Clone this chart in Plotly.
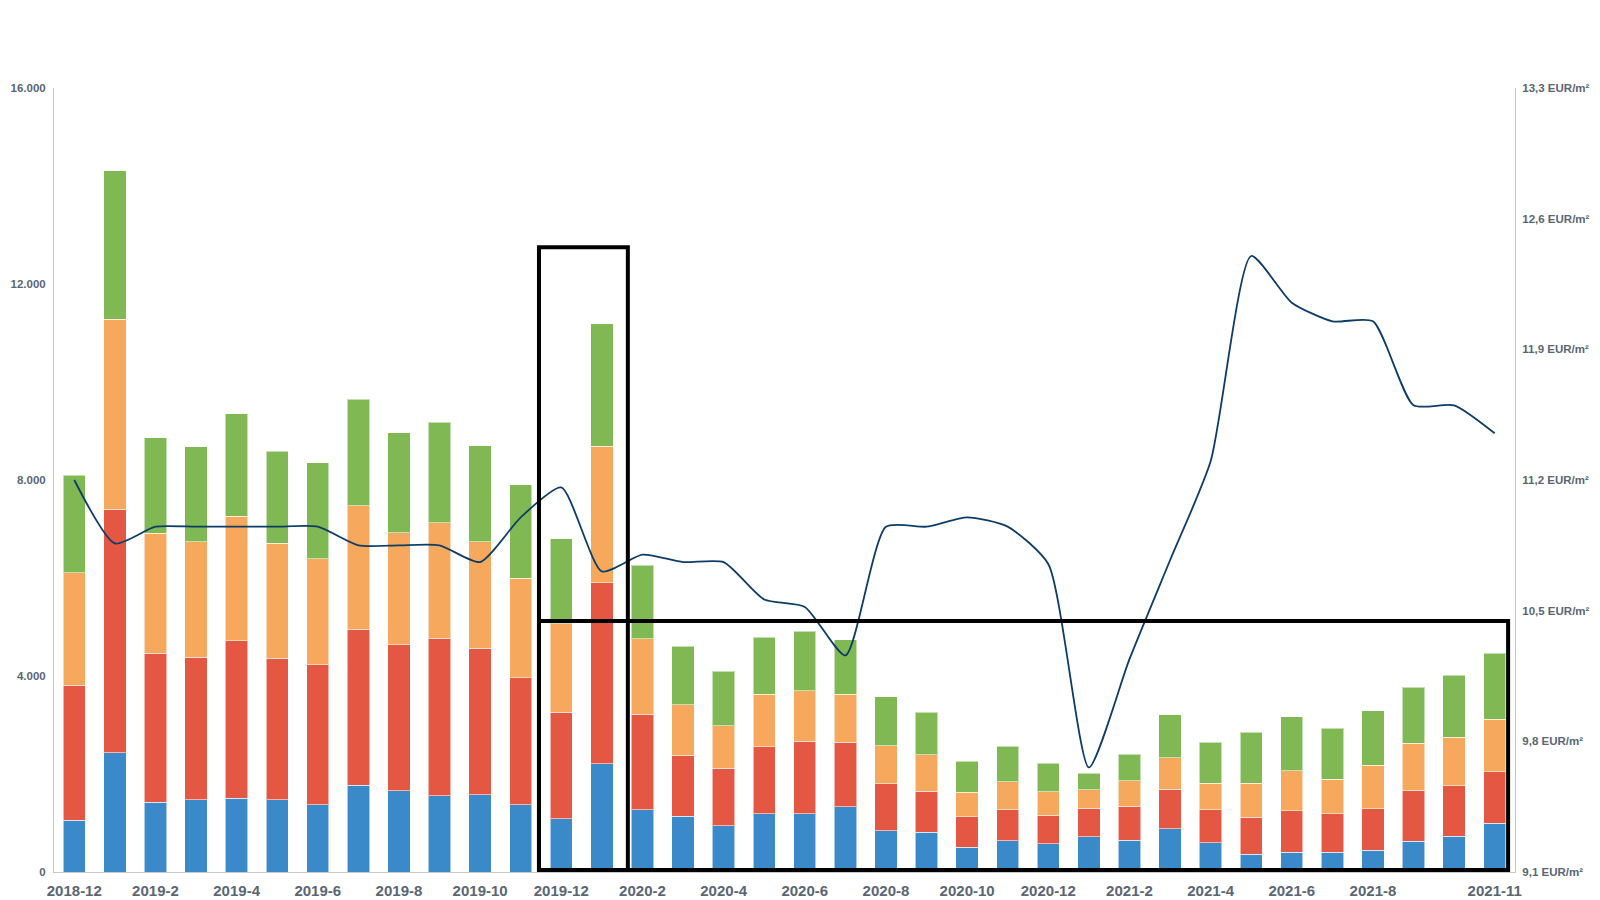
import plotly.graph_objects as go

# months shown on the x axis
months = [
    "2018-12", "2019-1", "2019-2", "2019-3", "2019-4", "2019-5", "2019-6", "2019-7",
    "2019-8", "2019-9", "2019-10", "2019-11", "2019-12", "2020-1", "2020-2", "2020-3",
    "2020-4", "2020-5", "2020-6", "2020-7", "2020-8", "2020-9", "2020-10", "2020-11",
    "2020-12", "2021-1", "2021-2", "2021-3", "2021-4", "2021-5", "2021-6", "2021-7",
    "2021-8", "2021-9", "2021-10", "2021-11",
]
tick_months = [
    "2018-12", "2019-2", "2019-4", "2019-6", "2019-8", "2019-10", "2019-12", "2020-2",
    "2020-4", "2020-6", "2020-8", "2020-10", "2020-12", "2021-2", "2021-4", "2021-6",
    "2021-8", "2021-11",
]

# stacked segments (bottom to top)
seg_blue = [1060, 2430, 1420, 1470, 1510, 1470, 1370, 1775, 1655, 1555, 1580, 1370,
            1085, 2205, 1270, 1140, 945, 1190, 1190, 1330, 840, 815, 510, 635,
            580, 720, 650, 880, 595, 365, 405, 405, 445, 625, 730, 1000]
seg_red = [2750, 4970, 3045, 2915, 3210, 2895, 2855, 3180, 2980, 3215, 2990, 2590,
           2175, 3700, 1950, 1245, 1170, 1365, 1480, 1320, 960, 835, 615, 640,
           580, 580, 690, 805, 680, 755, 850, 785, 850, 1040, 1035, 1050]
seg_orange = [2300, 3880, 2450, 2355, 2540, 2340, 2165, 2515, 2285, 2360, 2170, 2035,
              1810, 2780, 1540, 1025, 870, 1070, 1025, 975, 780, 745, 505, 565,
              475, 375, 520, 645, 540, 695, 810, 705, 885, 965, 990, 1070]
seg_green = [1990, 3035, 1945, 1935, 2090, 1885, 1960, 2180, 2045, 2050, 1960, 1905,
             1735, 2505, 1500, 1195, 1115, 1165, 1220, 1115, 1000, 865, 630, 730,
             580, 345, 540, 880, 835, 1040, 1105, 1040, 1115, 1140, 1260, 1340]

# price per m² (right axis)
price = [11.20, 10.86, 10.95, 10.95, 10.95, 10.95, 10.95, 10.85, 10.85, 10.85, 10.76, 11.00,
         11.16, 10.71, 10.80, 10.76, 10.76, 10.56, 10.52, 10.26, 10.95, 10.95, 11.00, 10.95,
         10.75, 9.66, 10.24, 10.77, 11.30, 12.40, 12.15, 12.05, 12.05, 11.60, 11.60, 11.45]

left_ticks = [0, 4000, 8000, 12000, 16000]
left_labels = ["0", "4.000", "8.000", "12.000", "16.000"]
right_ticks = [9.1, 9.8, 10.5, 11.2, 11.9, 12.6, 13.3]
right_labels = ["9,1 EUR/m²", "9,8 EUR/m²", "10,5 EUR/m²", "11,2 EUR/m²",
                "11,9 EUR/m²", "12,6 EUR/m²", "13,3 EUR/m²"]

font_family = "Liberation Sans, Arial, sans-serif"
y_font = dict(family=font_family, size=11.5, color="#5b6675", weight="bold")
x_font = dict(family=font_family, size=15, color="#5b6675", weight="bold")

fig = go.Figure()

for vals, color in [(seg_blue, "#3a8aca"), (seg_red, "#e45743"),
                    (seg_orange, "#f6a85c"), (seg_green, "#80b853")]:
    fig.add_trace(go.Bar(
        x=months, y=vals,
        marker=dict(color=color, line=dict(color="rgba(255,255,255,0.55)", width=1)),
        showlegend=False, hoverinfo="skip",
    ))

fig.add_trace(go.Scatter(
    x=months, y=price, yaxis="y2", mode="lines",
    line=dict(color="#0d3c68", width=1.8, shape="spline", smoothing=0.6),
    showlegend=False, hoverinfo="skip",
))

box_line = dict(color="black", width=4)
fig.add_shape(type="rect", xref="x", yref="y", x0=11.45, x1=13.64, y0=40, y1=12750,
              line=box_line)
fig.add_shape(type="rect", xref="x", yref="y", x0=11.45, x1=35.33, y0=40, y1=5120,
              line=box_line)

fig.update_layout(
    width=1600, height=900,
    barmode="stack", bargap=0.45,
    plot_bgcolor="white", paper_bgcolor="white",
    margin=dict(l=46, r=93, t=80, b=36),
    xaxis=dict(
        type="category", range=[-0.5, 35.5], automargin=False,
        tickvals=tick_months, ticktext=tick_months,
        showline=True, linecolor="#c8c8c8", linewidth=1,
        showgrid=False, ticks="", tickfont=x_font, ticklabelstandoff=5,
    ),
    yaxis=dict(
        range=[0, 16000], tickvals=left_ticks, ticktext=left_labels, automargin=False,
        showline=True, linecolor="#c8c8c8", linewidth=1,
        showgrid=False, zeroline=False, ticks="", tickfont=y_font,
        ticklabelstandoff=5,
    ),
    yaxis2=dict(
        overlaying="y", side="right", range=[9.1, 13.3], automargin=False,
        tickvals=right_ticks, ticktext=right_labels,
        showline=True, linecolor="#c8c8c8", linewidth=1,
        showgrid=False, zeroline=False, ticks="", tickfont=y_font,
        ticklabelstandoff=4,
    ),
)

fig.write_html("out.html")
